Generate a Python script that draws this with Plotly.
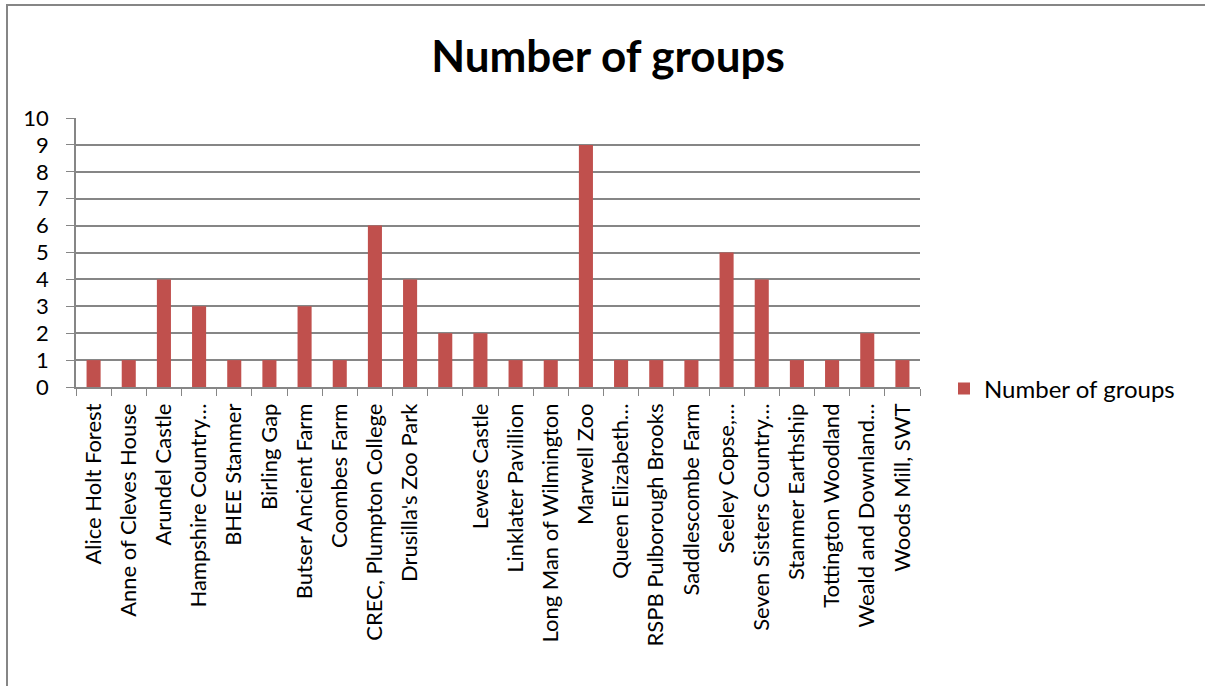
import plotly.graph_objects as go

categories = [
    "Alice Holt Forest", "Anne of Cleves House", "Arundel Castle", "Hampshire Country…",
    "BHEE Stanmer", "Birling Gap", "Butser Ancient Farm", "Coombes Farm",
    "CREC, Plumpton College", "Drusilla's Zoo Park", " ", "Lewes Castle",
    "Linklater Pavillion", "Long Man of Wilmington", "Marwell Zoo", "Queen Elizabeth…",
    "RSPB Pulborough Brooks", "Saddlescombe Farm", "Seeley Copse,…", "Seven Sisters Country…",
    "Stanmer Earthship", "Tottington Woodland", "Weald and Downland…", "Woods Mill, SWT",
]
values = [1, 1, 4, 3, 1, 1, 3, 1, 6, 4, 2, 2, 1, 1, 9, 1, 1, 1, 5, 4, 1, 1, 2, 1]
series_name = "Number of groups"
y_ticks = list(range(0, 11))

W, H = 1205, 686
L, R, T, B = 76, 920, 118, 387

fig = go.Figure()
fig.add_trace(go.Bar(
    x=categories, y=values, name=series_name,
    marker=dict(color="#C0504D", line=dict(width=0)),
    width=0.4, showlegend=True,
))

def px_x(p):
    return (p - L) / (R - L)

def px_y(p):
    return (B - p) / (B - T)

FONT = "Lato, Open Sans, sans-serif"

fig.update_layout(
    width=W, height=H, autosize=False,
    margin=dict(l=L, r=W - R, t=T, b=H - B, pad=0),
    paper_bgcolor="white", plot_bgcolor="white",
    font=dict(family=FONT, color="black", size=22),
    title=dict(text="<b>Number of groups</b>", x=608 / W, xanchor="center",
               y=1 - 57 / H, yanchor="middle",
               font=dict(size=44, family=FONT, color="black")),
    showlegend=True,
    legend=dict(x=px_x(944), y=px_y(389), xanchor="left", yanchor="middle",
                font=dict(size=24, family=FONT), bgcolor="rgba(0,0,0,0)", itemwidth=30),
    xaxis=dict(
        type="category", tickangle=-90, showgrid=False, automargin=False,
        showline=True, linecolor="#868686", linewidth=1.5,
        ticks="outside", ticklen=7, tickcolor="#868686", tickson="boundaries",
        ticklabelstandoff=6,
        tickfont=dict(size=22, family=FONT), range=[-0.5, len(categories) - 0.5],
    ),
    yaxis=dict(
        range=[0, 10], tickvals=y_ticks, showgrid=True, gridcolor="#868686", gridwidth=1.5,
        showline=True, linecolor="#868686", linewidth=1.5, automargin=False,
        ticks="outside", ticklen=8, tickcolor="#868686", ticklabelstandoff=13,
        tickfont=dict(size=22, family=FONT), zeroline=False, fixedrange=True,
    ),
)

# outer chart border (left and top)
fig.add_shape(type="line", xref="paper", yref="paper",
              x0=px_x(7), x1=px_x(7), y0=px_y(5), y1=px_y(686),
              line=dict(color="#868686", width=2))
fig.add_shape(type="line", xref="paper", yref="paper",
              x0=px_x(6), x1=px_x(1205), y0=px_y(5), y1=px_y(5),
              line=dict(color="#868686", width=2))

fig.write_html("out.html")
